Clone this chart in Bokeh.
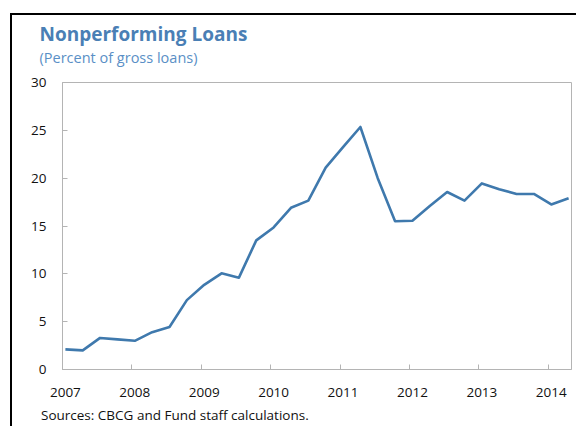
from bokeh.plotting import figure
from bokeh.models import FixedTicker, Title, Range1d
from bokeh.embed import file_html
from bokeh.resources import INLINE

# ---- data ----
quarters = ["2007Q1", "2007Q2", "2007Q3", "2007Q4",
            "2008Q1", "2008Q2", "2008Q3", "2008Q4",
            "2009Q1", "2009Q2", "2009Q3", "2009Q4",
            "2010Q1", "2010Q2", "2010Q3", "2010Q4",
            "2011Q1", "2011Q2", "2011Q3", "2011Q4",
            "2012Q1", "2012Q2", "2012Q3", "2012Q4",
            "2013Q1", "2013Q2", "2013Q3", "2013Q4",
            "2014Q1", "2014Q2"]
npl = [2.1, 2.0, 3.3, 3.15,
       3.0, 3.9, 4.45, 7.25,
       8.85, 10.05, 9.6, 13.5,
       14.85, 16.9, 17.65, 21.1,
       23.25, 25.35, 20.0, 15.5,
       15.55, 17.1, 18.55, 17.65,
       19.45, 18.85, 18.35, 18.35,
       17.25, 17.9]
year_labels = ["2007", "2008", "2009", "2010", "2011", "2012", "2013", "2014"]
y_ticks = [0, 5, 10, 15, 20, 25, 30]

title_text = "Nonperforming Loans"
subtitle_text = "(Percent of gross loans)"
source_text = "Sources: CBCG and Fund staff calculations."

# months since Jan 2007, centred in the month slot
def qpos(q):
    yr = int(q[:4]); qq = int(q[5])
    return (yr - 2007) * 12 + (qq - 1) * 3 + 0.5

x = [qpos(q) for q in quarters]
year_start = [(int(y) - 2007) * 12 for y in year_labels]
label_pos = [s + 0.5 for s in year_start]

W, H = 566, 413
GRAY = "#b4b4b4"
FONT = "Open Sans"

p = figure(width=W, height=H, output_backend="svg", toolbar_location=None,
           x_range=Range1d(0, 88), y_range=Range1d(0, 30),
           min_border_left=50, min_border_right=7,
           min_border_top=67, min_border_bottom=59)
p.title_location = None
p.styles = {"margin-left": "10px", "margin-top": "13px",
            "border-left": "2px solid black", "border-top": "2px solid black"}
p.background_fill_color = "white"
p.border_fill_color = "white"
p.outline_line_color = GRAY
p.outline_line_width = 1
p.xgrid.visible = False
p.ygrid.visible = False

p.line(x, npl, line_width=2.6, line_color="#3f79ad", line_join="round")

# x axis
xa = p.xaxis[0]
xa.ticker = FixedTicker(ticks=label_pos, minor_ticks=year_start)
xa.major_label_overrides = {lp: lab for lp, lab in zip(label_pos, year_labels)}
xa.major_tick_line_color = None
xa.minor_tick_line_color = GRAY
xa.minor_tick_in = 5
xa.minor_tick_out = 0
xa.axis_line_color = GRAY
xa.major_label_standoff = 12
xa.major_label_text_font = FONT
xa.major_label_text_font_size = "13.5px"
xa.major_label_text_color = "#111111"

# y axis
ya = p.yaxis[0]
ya.ticker = FixedTicker(ticks=y_ticks)
ya.major_tick_in = 5
ya.major_tick_out = 0
ya.major_tick_line_color = GRAY
ya.minor_tick_line_color = None
ya.axis_line_color = GRAY
ya.major_label_standoff = 16
ya.major_label_text_font = FONT
ya.major_label_text_font_size = "13.5px"
ya.major_label_text_color = "#111111"

# titles (subtitle nearest to the frame, title outermost)
p.add_layout(Title(text=subtitle_text, align="left", offset=-23, standoff=31.4,
                   text_font=FONT, text_font_size="14.5px",
                   text_font_style="normal", text_color="#5a8fc6"), "above")
p.add_layout(Title(text=title_text, align="left", offset=-23, standoff=-32,
                   text_font=FONT, text_font_size="19px",
                   text_font_style="bold", text_color="#4a7fb5"), "above")
p.add_layout(Title(text=source_text, align="left", offset=-21.5, standoff=8,
                   text_font=FONT, text_font_size="13.5px",
                   text_font_style="normal", text_color="#111111"), "below")

open("out.html", "w").write(file_html(p, INLINE))
